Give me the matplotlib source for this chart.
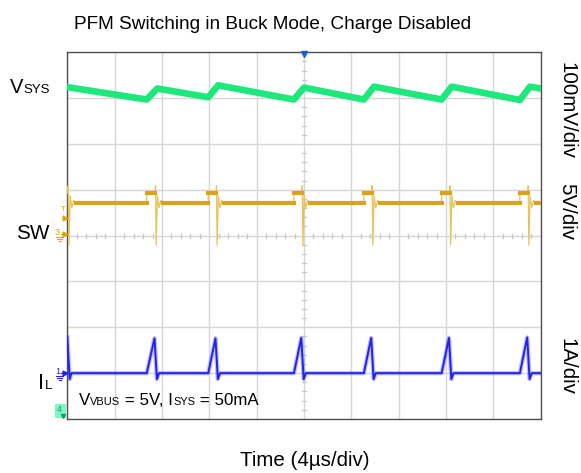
import numpy as np
import matplotlib
matplotlib.use('Agg')
import matplotlib.pyplot as plt
from matplotlib.transforms import IdentityTransform
from matplotlib.lines import Line2D
from matplotlib.patches import Rectangle

plt.rcParams['font.family'] = ['Liberation Sans', 'DejaVu Sans']

W, H = 581, 473

# ---------------- data read from the scope capture ----------------
title = "PFM Switching in Buck Mode, Charge Disabled"
xlabel = "Time (4µs/div)"
scale_labels = ["100mV/div", "5V/div", "1A/div"]

time_per_div_us = 4.0
n_xdiv, n_ydiv = 10, 8

# high-side on / off instants of each PFM burst (µs from left edge)
t_on_us = [6.71, 11.91, 19.15, 25.06, 31.63, 38.24]
t_off_us = [7.45, 12.60, 19.85, 25.76, 32.33, 38.94]
t_prev_off_us = 0.08          # burst that ends just at the left edge

# VSYS ripple (mV relative to the 7th division line, 100 mV/div)
vsys_start_mV = 24
vsys_trough_mV = [-3, 2, -3, -3, -3, -4]
vsys_peak_mV = [21, 28, 23, 25, 25, 25]
vsys_end_mV = 21

# SW node (V, 5 V/div)
sw_idle_V = 3.4
sw_high_V = 4.5
sw_ring_dt_us = [0.0, 0.06, 0.16, 0.30, 0.45, 0.65]
sw_ring_V = [5.3, -1.2, 4.2, 2.9, 3.7, 3.4]

# inductor current (A, 1 A/div)
il_start_A = 0.79
il_peak_A = [0.76, 0.76, 0.77, 0.77, 0.77, 0.78]
il_under_A = -0.13

# channel positions (divisions from bottom) and scales
vsys_ref_div, vsys_mV_per_div = 7.0, 100.0
sw_gnd_div, sw_V_per_div = 4.03, 5.0
il_gnd_div, il_A_per_div = 1.0, 1.0

t_end = n_xdiv * time_per_div_us

# ---------------- build traces ----------------
# VSYS
vt = [0.0]
vv = [vsys_start_mV]
for i in range(len(t_on_us)):
    vt += [t_on_us[i], t_off_us[i] + 0.15]
    vv += [vsys_trough_mV[i], vsys_peak_mV[i]]
vt += [t_end]
vv += [vsys_end_mV]
vsys_y = vsys_ref_div + np.array(vv) / vsys_mV_per_div

# SW thin trace and band
st = [0.0]
sv = [sw_high_V]
for dt, v in zip(sw_ring_dt_us, sw_ring_V):
    st.append(t_prev_off_us + dt); sv.append(v)
band_t, band_v = [], []
last = t_prev_off_us + sw_ring_dt_us[-1]
for i in range(len(t_on_us)):
    band_t += [last, t_on_us[i], np.nan, t_on_us[i], t_off_us[i], np.nan]
    band_v += [sw_idle_V, sw_idle_V, np.nan, sw_high_V, sw_high_V, np.nan]
    st += [t_on_us[i], t_on_us[i], t_off_us[i]]
    sv += [sw_idle_V, sw_high_V, sw_high_V]
    for dt, v in zip(sw_ring_dt_us, sw_ring_V):
        st.append(t_off_us[i] + dt); sv.append(v)
    last = t_off_us[i] + sw_ring_dt_us[-1]
band_t += [last, t_end]
band_v += [sw_idle_V, sw_idle_V]
st.append(t_end); sv.append(sw_idle_V)
sw_y = sw_gnd_div + np.array(sv) / sw_V_per_div
sw_band_y = sw_gnd_div + np.array(band_v, dtype=float) / sw_V_per_div

# IL
it = [0.0, 0.2, 0.35]
iv = [il_start_A, il_under_A, 0.0]
for i in range(len(t_on_us)):
    it += [t_on_us[i], t_off_us[i] - 0.08, t_off_us[i] + 0.12, t_off_us[i] + 0.3]
    iv += [0.0, il_peak_A[i], il_under_A, 0.0]
it.append(t_end); iv.append(0.0)
il_y = il_gnd_div + np.array(iv) / il_A_per_div

# ---------------- figure ----------------
fig = plt.figure(figsize=(W / 100, H / 100), dpi=100)
L, R, T, B = 67.3, 540.7, 52.3, 419.0
ax = fig.add_axes([L / W, (H - B) / H, (R - L) / W, (B - T) / H])
ax.set_xlim(0, t_end)
ax.set_ylim(0, n_ydiv)
ax.set_xticks(np.arange(0, t_end + 0.1, time_per_div_us))
ax.set_yticks(np.arange(0, n_ydiv + 1))
ax.tick_params(length=0, labelbottom=False, labelleft=False)
ax.grid(True, color='#d6d6d6', lw=1.0)
ax.set_axisbelow(True)
for s in ax.spines.values():
    s.set_color('#505050')
    s.set_linewidth(1.0)

# minor ticks on centre lines
xc = t_end / 2
for y in np.arange(0.2, n_ydiv, 0.2):
    if abs(y - round(y)) > 1e-6:
        ax.plot([xc - 0.17, xc + 0.17], [y, y], color='#c8c8c8', lw=0.9, zorder=1)
for x in np.arange(0.8, t_end, 0.8):
    if abs(x / 4 - round(x / 4)) > 1e-6:
        ax.plot([x, x], [4 - 0.045, 4 + 0.045], color='#c8c8c8', lw=0.9, zorder=1)

# traces
ax.plot(vt, vsys_y, color='#1ee87c', lw=4.8, solid_joinstyle='round', zorder=3)
ax.plot(st, sw_y, color='#e8c35a', lw=0.9, zorder=3)
ax.plot(band_t, sw_band_y, color='#d8a51a', lw=3.0, zorder=4)
ax.plot(it, il_y, color='#4a4af0', lw=3.2, alpha=0.35, zorder=3)
ax.plot(it, il_y, color='#2222ea', lw=1.4, zorder=4)

# ---------------- text ----------------
ident = IdentityTransform()
renderer = fig.canvas.get_renderer()


def rich(x, ybase, parts, color='black'):
    for s, size in parts:
        t = fig.text(x, H - ybase, s, transform=ident, fontsize=size,
                     ha='left', va='baseline', color=color)
        bb = t.get_window_extent(renderer=renderer)
        x = bb.x1


fig.text(273, H - 28.6, title, transform=ident, fontsize=13.7,
         ha='center', va='baseline')
fig.text(304.7, H - 466, xlabel, transform=ident, fontsize=14.8,
         ha='center', va='baseline')

rich(10, 93.3, [("V", 14.5), ("SYS", 9.5)])
rich(16.5, 239.3, [("SW", 14.9)])
rich(38.5, 388.5, [("I", 16), ("L", 9.5)])
rich(79, 405, [("V", 12.2), ("VBUS", 7.9), (" = 5V, I", 12.2), ("SYS", 7.9),
               (" = 50mA", 12.2)])

for lab, yc in zip(scale_labels, [110, 211.5, 366.5]):
    fig.text(566.7, H - yc, lab, transform=ident, fontsize=14.8,
             rotation=270, ha='center', va='center')

# ---------------- scope markers ----------------
gold = '#d8a51a'
blue = '#2222ea'
fig.add_artist(Line2D([304.3], [H - 53.5], marker='v', ms=5, color='#1a5fd6',
                      transform=ident, clip_on=False))
fig.text(63.8, H - 209.5, 'T', transform=ident, fontsize=6, color=gold,
         ha='center', va='center')
fig.add_artist(Line2D([64.8], [H - 218.3], marker='>', ms=3.5, color=gold,
                      transform=ident))


def gnd_marker(num, y, color):
    fig.text(57.5, H - y + 1.5, num, transform=ident, fontsize=6.5,
             color=color, ha='center', va='center')
    for k, w in enumerate([3.5, 2.3, 1.0]):
        fig.add_artist(Line2D([59.5 - w, 59.5 + w], [H - y - 3 - 2 * k] * 2,
                              color=color, lw=0.8, transform=ident))
    fig.add_artist(Line2D([60.5, 63.5], [H - y, H - y], color=color, lw=0.8,
                          transform=ident))
    fig.add_artist(Line2D([64.8], [H - y], marker='>', ms=3.5, color=color,
                          transform=ident))


gnd_marker('3', 234.3, gold)
gnd_marker('1', 373.3, blue)

fig.add_artist(Rectangle((55, H - 418.3), 11, 14.3, transform=ident,
                         facecolor='#7ff5c8', edgecolor='none'))
fig.text(59, H - 409, '4', transform=ident, fontsize=6.5, color='#19a35a',
         ha='center', va='center')
fig.add_artist(Line2D([63], [H - 415.5], marker='v', ms=3, color='#19a35a',
                      transform=ident))

fig.savefig('out.png', dpi=100)
